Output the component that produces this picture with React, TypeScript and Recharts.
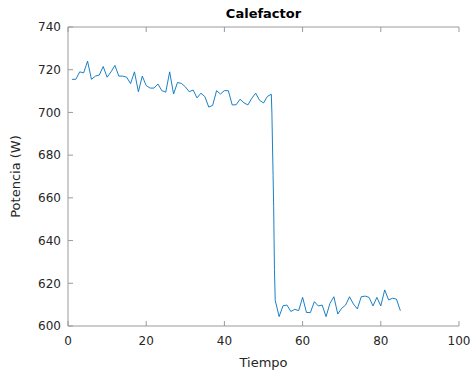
import { CartesianGrid, Line, LineChart, XAxis, YAxis } from "recharts";

// tiempo (s) y potencia (W)
const tiempo = [
  1, 2, 3, 4, 5, 6, 7, 8, 9, 10, 11, 12, 13, 14, 15, 16, 17, 18, 19, 20, 21, 22, 23, 24, 25, 26,
  27, 28, 29, 30, 31, 32, 33, 34, 35, 36, 37, 38, 39, 40, 41, 42, 43, 44, 45, 46, 47, 48, 49, 50,
  51, 52, 52.15, 52.3, 52.45, 52.6, 52.7, 52.8, 53, 54, 55, 56, 57, 58, 59, 60, 61, 62, 63, 64,
  65, 66, 67, 68, 69, 70, 71, 72, 73, 74, 75, 76, 77, 78, 79, 80, 81, 82, 83, 84, 85,
];
const potencia = [
  715.5, 715.5, 719, 718.5, 724, 715.5, 717, 717.5, 721.5, 716.5,
  719, 722, 717, 717, 716.5, 713.5, 719, 709.7, 717, 712.6,
  711.4, 711.4, 713.3, 710.2, 709.5, 719, 708.6, 714, 713.6, 712,
  709.7, 710.5, 706.8, 709, 707.4, 702.5, 703.3, 710.2, 708.6, 710.2,
  710.2, 703.5, 703.6, 706.2, 704.5, 703.5, 706.6, 709, 705.7, 704.4,
  707.5, 708.5,
  699.6, 684.7, 670.5, 656, 641, 626.5,
  612, 604.4, 609.5, 609.8, 606.8, 607.8, 607.2, 613.4, 606.3, 606.3,
  611.4, 609.4, 609.8, 604.4, 610.6, 613.7, 605.6, 608.3, 609.8, 613.7,
  610.3, 608, 613.7, 614, 613.4, 609.4, 613.4, 609.4, 616.9, 612.2,
  613, 612.6, 607.2,
];
const xTicks = [0, 20, 40, 60, 80, 100];
const yTicks = [600, 620, 640, 660, 680, 700, 720, 740];

const data = tiempo.map((t, i) => ({ t, p: potencia[i] }));

const FONT = "DejaVu Sans, sans-serif";
const AXIS = "#9a9a9a";
const TEXT = "#262626";

export default function App() {
  return (
    <div style={{ position: "fixed", left: 0, top: 0, background: "#fff" }}>
      <LineChart width={472} height={374} data={data} margin={{ top: 0, right: 13, bottom: 0, left: 0 }}>
        <XAxis
          xAxisId="top"
          orientation="top"
          dataKey="t"
          type="number"
          domain={[0, 100]}
          ticks={xTicks}
          height={27}
          stroke={AXIS}
          tickSize={-5}
          tickFormatter={() => ""}
          label={{ value: "Calefactor", position: "insideTop", offset: 9, fill: "#000", fontWeight: "bold", fontSize: 13, fontFamily: FONT }}
        />
        <YAxis
          yAxisId="right"
          orientation="right"
          type="number"
          domain={[600, 740]}
          ticks={yTicks}
          width={0}
          stroke={AXIS}
          tickSize={-5}
          tickFormatter={() => ""}
        />
        <XAxis
          dataKey="t"
          type="number"
          domain={[0, 100]}
          ticks={xTicks}
          height={48}
          stroke={AXIS}
          tickSize={-5}
          tickMargin={15}
          tick={{ fill: TEXT, fontSize: 12, fontFamily: FONT }}
          label={{ value: "Tiempo", position: "insideBottom", offset: 7, fill: TEXT, fontSize: 13, fontFamily: FONT }}
        />
        <YAxis
          type="number"
          domain={[600, 740]}
          ticks={yTicks}
          width={68}
          stroke={AXIS}
          tickSize={-5}
          tickMargin={12}
          tick={{ fill: TEXT, fontSize: 12, fontFamily: FONT }}
          label={{ value: "Potencia (W)", angle: -90, position: "insideLeft", offset: 15, fill: TEXT, fontSize: 13, fontFamily: FONT, style: { textAnchor: "middle" } }}
        />
        <CartesianGrid stroke="none" />
        <Line
          type="linear"
          dataKey="p"
          stroke="#0072BD"
          strokeWidth={0.9}
          dot={false}
          isAnimationActive={false}
        />
      </LineChart>
    </div>
  );
}
